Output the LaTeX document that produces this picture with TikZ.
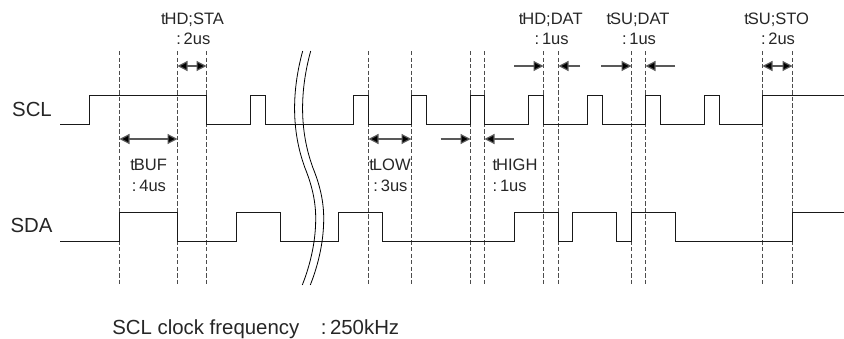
\documentclass[tikz,border=0pt]{standalone}
\usepackage{fontspec}
\setmainfont{Liberation Sans}
\usetikzlibrary{arrows.meta}
\tikzset{
  wave/.style={draw=black!90,line width=0.75pt,line join=miter},
  guide/.style={draw=black!70,line width=0.7pt,dash pattern=on 3.3pt off 1.6pt},
  breakline/.style={draw=black,line width=0.6pt},
  span/.style={draw=black!65,line width=0.9pt,-{Triangle[length=7.5pt,width=7.5pt,fill=black]}},
  spanboth/.style={draw=black!65,line width=0.9pt,{Triangle[length=7.5pt,width=7.5pt,fill=black]}-{Triangle[length=7.5pt,width=7.5pt,fill=black]}},
  lab/.style={anchor=base,inner sep=0pt,text=black!85,font=\fontsize{12.4pt}{14pt}\selectfont},
  big/.style={anchor=base,inner sep=0pt,text=black!85,font=\fontsize{15.3pt}{17pt}\selectfont},
}
\newcommand{\tk}{t\kern-0.8pt }
\begin{document}
\begin{tikzpicture}[x=0.75pt,y=-0.75pt]
\useasboundingbox (0,0) rectangle (844,339);
% guides
\foreach \n/\x in {a/119.5,b/177.5,c/206.5,d/368.5,e/411.5,f/470.5,g/484.5,h/543.5,i/558.5,j/631.5,k/645.5,l/762.5,m/792.5}{
  \coordinate (\n-top) at (\x,51);
  \coordinate (\n-bot) at (\x,286);
  \coordinate (\n-up) at (\x,66);
  \coordinate (\n-low) at (\x,139);
  \draw[guide] (\n-top) -- (\n-bot);
}
% waves
\draw[wave] (60,124.5) -- (89.5,124.5) |- (206.5,95.5) |- (250.5,124.5) |- (265.5,95.5) |- (353.5,124.5)
  |- (368.5,95.5) |- (411.5,124.5) |- (426.5,95.5) |- (470.5,124.5) |- (484.5,95.5) |- (528.5,124.5)
  |- (543.5,95.5) |- (587.5,124.5) |- (602.5,95.5) |- (645.5,124.5) |- (660.5,95.5) |- (704.5,124.5)
  |- (719.5,95.5) |- (762.5,124.5);
\draw[wave] (762.5,124.5) -- (762.5,95.5) -- (844,95.5);
\draw[wave] (60,241.5) -- (119.5,241.5) -- (119.5,212.5) -- (177.5,212.5) -- (177.5,241.5) -- (236.5,241.5) -- (236.5,212.5) -- (280.5,212.5) -- (280.5,241.5) -- (338.5,241.5) -- (338.5,212.5) -- (382.5,212.5) -- (382.5,241.5) -- (514.5,241.5) -- (514.5,212.5) -- (558.5,212.5) -- (558.5,241.5) -- (572.5,241.5) -- (572.5,212.5) -- (616.5,212.5) -- (616.5,241.5) -- (631.5,241.5) -- (631.5,212.5) -- (675.5,212.5) -- (675.5,241.5) -- (792.5,241.5) -- (792.5,212.5) -- (844,212.5);
% break
\foreach \d in {0,8}{
  \draw[breakline,shift={(\d,0)}] (302.7,51) .. controls (292,90) and (291,130) .. (305,168)
    .. controls (311,183) and (316,200) .. (315.7,220)
    .. controls (315.5,245) and (309,268) .. (302.3,285);
}
% spans
\draw[spanboth] (b-up) -- (c-up);
\draw[spanboth] (l-up) -- (m-up);
\draw[spanboth] (a-low) -- (b-low);
\draw[spanboth] (d-low) -- (e-low);
\coordinate (fs) at (440.7,139); \coordinate (gs) at (514,139);
\coordinate (hs) at (514,66); \coordinate (is) at (580,66);
\coordinate (js) at (601,66); \coordinate (ks) at (675,66);
\draw[span] (fs) -- (f-low);
\draw[span] (gs) -- (g-low);
\draw[span] (hs) -- (h-up);
\draw[span] (is) -- (i-up);
\draw[span] (js) -- (j-up);
\draw[span] (ks) -- (k-up);
% labels
\node[big] (scl) at (32,116) {SCL};
\node[big] (sda) at (31.5,232) {SDA};
\node[lab] (l1a) at (192.5,24) {\tk HD;STA};
\node[lab] (l1b) at (193.3,45) {:\,2us};
\node[lab] (l2a) at (550.7,24) {\tk HD;DAT};
\node[lab] (l2b) at (551.7,45) {:\,1us};
\node[lab] (l3a) at (638,24) {\tk SU;DAT};
\node[lab] (l3b) at (639,45) {:\,1us};
\node[lab] (l4a) at (776.7,24) {\tk SU;STO};
\node[lab] (l4b) at (778,45) {:\,2us};
\node[lab] (l5a) at (148.7,170) {\tk BUF};
\node[lab] (l5b) at (149,191) {:\,4us};
\node[lab] (l6a) at (390,170) {\tk LOW};
\node[lab] (l6b) at (390.5,191) {:\,3us};
\node[lab] (l7a) at (515,170) {\tk HIGH};
\node[lab] (l7b) at (509.7,191) {:\,1us};
\node[big,anchor=base west] (f1) at (112,334) {SCL clock frequency};
\node[big,anchor=base west] (f2) at (320.7,334) {:\,250kHz};
\end{tikzpicture}
\end{document}
